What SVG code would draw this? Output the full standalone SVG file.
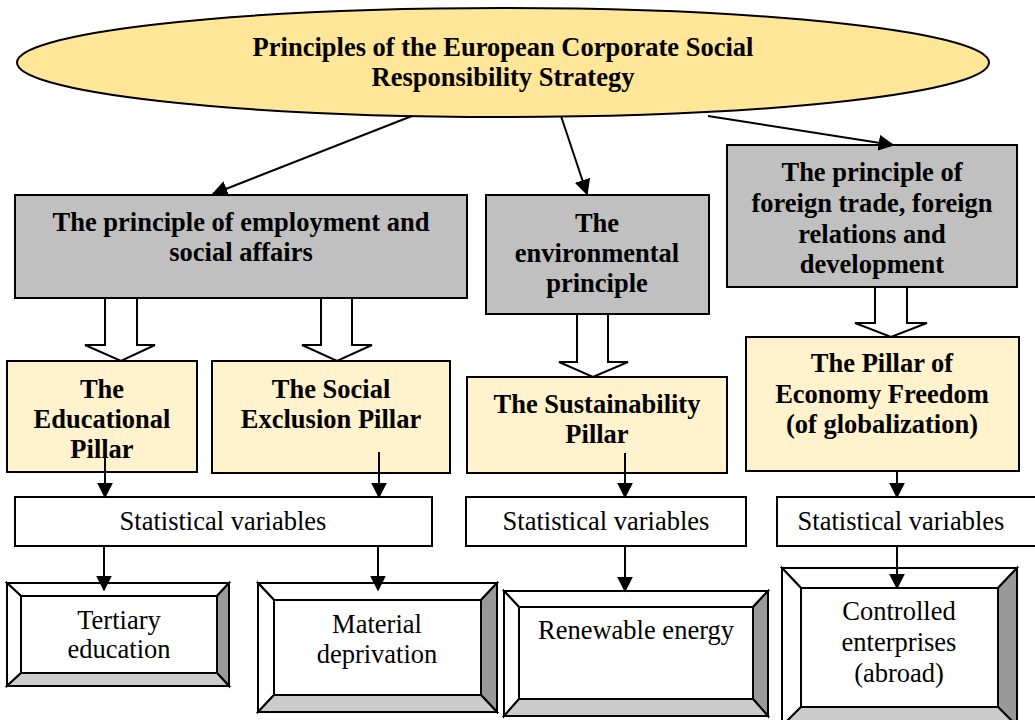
<svg xmlns="http://www.w3.org/2000/svg" width="1035" height="720" viewBox="0 0 1035 720">
<style>
text{font-family:"Liberation Serif","Times New Roman",serif;font-size:26.5px;fill:#000;text-anchor:middle}
.b{font-weight:bold}
.gray{fill:#C0C0C0;stroke:#000;stroke-width:2}
.pil{fill:#FFF2CC;stroke:#000;stroke-width:2}
.stat{fill:#fff;stroke:#000;stroke-width:2}
.bw{fill:#fff;stroke:#000;stroke-width:2;stroke-linejoin:miter}
.br{fill:#999;stroke:#000;stroke-width:2}
.bb{fill:#ccc;stroke:#000;stroke-width:2}
.hol{fill:#fff;stroke:#000;stroke-width:2;stroke-linejoin:miter}
.con{stroke:#000;stroke-width:2;fill:none;marker-end:url(#ah)}
</style>
<defs>
<marker id="ah" viewBox="0 0 10 10" refX="9" refY="5" markerWidth="8" markerHeight="8" orient="auto" markerUnits="strokeWidth">
<path d="M0,0 L10,5 L0,10 z" fill="#000"/>
</marker>
</defs>
<rect width="1035" height="720" fill="#fff"/>

<g id="title">
<ellipse cx="503" cy="62.5" rx="486" ry="54.5" fill="#FFE699" stroke="#000" stroke-width="2"/>
<text class="b" x="503" y="56">Principles of the European Corporate Social</text>
<text class="b" x="503" y="86">Responsibility Strategy</text>
</g>

<g id="employment">
<rect class="gray" x="15" y="195" width="452" height="103"/>
<text class="b" x="241" y="231">The principle of employment and</text>
<text class="b" x="241" y="261">social affairs</text>
</g>

<g id="environmental">
<rect class="gray" x="486" y="195" width="223" height="119"/>
<text class="b" x="597" y="232">The</text>
<text class="b" x="597" y="262">environmental</text>
<text class="b" x="597" y="292">principle</text>
</g>

<g id="foreign">
<rect class="gray" x="727" y="145" width="290" height="142"/>
<text class="b" x="872" y="181">The principle of</text>
<text class="b" x="872" y="212">foreign trade, foreign</text>
<text class="b" x="872" y="243">relations and</text>
<text class="b" x="872" y="273">development</text>
</g>

<g id="educational">
<rect class="pil" x="7" y="361" width="190" height="111"/>
<text class="b" x="102" y="398">The</text>
<text class="b" x="102" y="428">Educational</text>
<text class="b" x="102" y="458">Pillar</text>
</g>

<g id="social">
<rect class="pil" x="212" y="361" width="238" height="112"/>
<text class="b" x="331" y="398">The Social</text>
<text class="b" x="331" y="428">Exclusion Pillar</text>
</g>

<g id="sustainability">
<rect class="pil" x="467" y="377" width="260" height="96"/>
<text class="b" x="597" y="413">The Sustainability</text>
<text class="b" x="597" y="443">Pillar</text>
</g>

<g id="economy">
<rect class="pil" x="746" y="337" width="273" height="134"/>
<text class="b" x="882" y="372">The Pillar of</text>
<text class="b" x="882" y="403">Economy Freedom</text>
<text class="b" x="882" y="433">(of globalization)</text>
</g>

<g id="stat1">
<rect class="stat" x="15" y="497" width="417" height="49"/>
<text x="223" y="530">Statistical variables</text>
</g>
<g id="stat3">
<rect class="stat" x="466" y="497" width="280" height="49"/>
<text x="606" y="530">Statistical variables</text>
</g>
<g id="stat4">
<rect class="stat" x="777" y="497" width="262" height="49"/>
<text x="901" y="530">Statistical variables</text>
</g>

<g id="tertiary">
<polygon class="bw" points="7,583 229,583 217,596 21,596"/>
<polygon class="bw" points="7,583 21,596 21,673 7,686"/>
<polygon class="br" points="229,583 229,686 217,673 217,596"/>
<polygon class="bb" points="7,686 229,686 217,673 21,673"/>
<rect class="bw" x="21" y="596" width="196" height="77"/>
<text x="119" y="629">Tertiary</text>
<text x="119" y="658">education</text>
</g>

<g id="material">
<polygon class="bw" points="258,583 497,583 481,600 274,600"/>
<polygon class="bw" points="258,583 274,600 274,695 258,712"/>
<polygon class="br" points="497,583 497,712 481,695 481,600"/>
<polygon class="bb" points="258,712 497,712 481,695 274,695"/>
<rect class="bw" x="274" y="600" width="207" height="95"/>
<text x="377" y="633">Material</text>
<text x="377" y="663">deprivation</text>
</g>

<g id="renewable">
<polygon class="bw" points="504,591 768,591 753,607 519,607"/>
<polygon class="bw" points="504,591 519,607 519,699 504,716"/>
<polygon class="br" points="768,591 768,716 753,699 753,607"/>
<polygon class="bb" points="504,716 768,716 753,699 519,699"/>
<rect class="bw" x="519" y="607" width="234" height="92"/>
<text x="636" y="639">Renewable energy</text>
</g>

<g id="controlled">
<polygon class="bw" points="782,568 1017,568 998,588 801,588"/>
<polygon class="bw" points="782,568 801,588 801,707 782,726"/>
<polygon class="br" points="1017,568 1017,726 998,707 998,588"/>
<polygon class="bb" points="782,726 1017,726 998,707 801,707"/>
<rect class="bw" x="801" y="588" width="197" height="119"/>
<text x="899" y="620">Controlled</text>
<text x="899" y="651">enterprises</text>
<text x="899" y="682">(abroad)</text>
</g>

<g id="connectors">
<line class="con" x1="412" y1="116" x2="213" y2="194"/>
<line class="con" x1="561" y1="116" x2="587" y2="194"/>
<line class="con" x1="708" y1="116" x2="893" y2="145"/>
<polygon class="hol" points="105,298 137,298 137,345 155,345 121,361 85,345 105,345"/>
<polygon class="hol" points="321,298 352,298 352,345 372,345 337,361 302,345 321,345"/>
<polygon class="hol" points="577,314 608,314 608,362 628,362 593,377 559,362 577,362"/>
<polygon class="hol" points="875,287 907,287 907,323 927,323 891,337 855,323 875,323"/>
<line class="con" x1="105" y1="457" x2="105" y2="497"/>
<line class="con" x1="379" y1="452" x2="379" y2="497"/>
<line class="con" x1="625" y1="453" x2="625" y2="497"/>
<line class="con" x1="897" y1="471" x2="897" y2="497"/>
<line class="con" x1="104" y1="546" x2="104" y2="590"/>
<line class="con" x1="378" y1="546" x2="378" y2="590"/>
<line class="con" x1="625" y1="546" x2="625" y2="591"/>
<line class="con" x1="897" y1="546" x2="897" y2="588"/>
</g>
</svg>
